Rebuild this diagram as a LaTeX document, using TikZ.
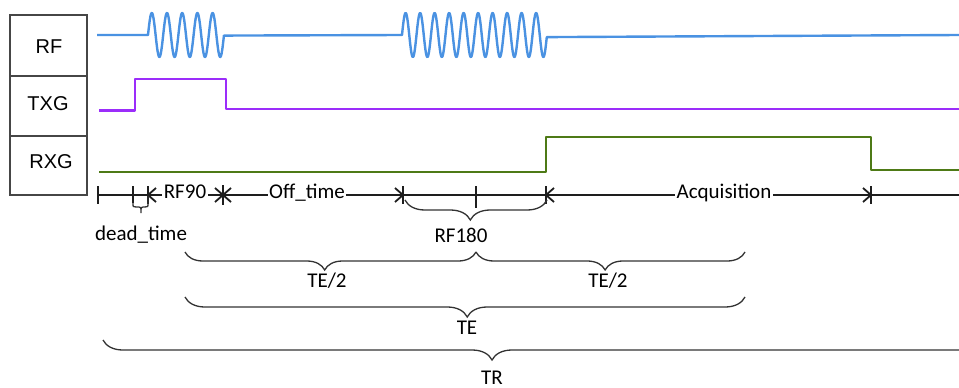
\documentclass[tikz,border=0pt]{standalone}
\usepackage{fontspec}
\newfontfamily\calfont{Carlito}
\newfontfamily\arialfont{Liberation Sans}
\usetikzlibrary{decorations.pathreplacing}
\definecolor{rfblue}{RGB}{74,146,226}
\definecolor{txpurple}{RGB}{155,45,250}
\definecolor{rxgreen}{RGB}{78,122,22}
\definecolor{boxgray}{RGB}{70,70,70}
\definecolor{tlblack}{RGB}{30,30,30}
\tikzset{
  sig/.style={line width=2.4pt, line join=round},
  tl/.style={line width=1.8pt, draw=tlblack},
  boxline/.style={line width=1.2pt, draw=boxgray},
  boxlabel/.style={font=\arialfont\fontsize{20}{24}\selectfont, inner sep=0pt},
  tltext/.style={font=\calfont\fontsize{21}{25}\selectfont, fill=white, inner sep=1.5pt, anchor=base},
  brlabel/.style={font=\calfont\fontsize{21}{25}\selectfont, inner sep=0pt, anchor=base},
  curly/.style={line width=1.3pt, draw=black!80, decorate},
  tickmark/.pic={\draw[tl] (0,-9) -- (0,9);},
  barleft/.pic={\draw[tl] (0,-9) -- (0,9); \draw[tl] (8,-7) -- (0,0) -- (8,7);},
  barright/.pic={\draw[tl] (0,-9) -- (0,9); \draw[tl] (-8,-7) -- (0,0) -- (-8,7);},
  barboth/.pic={\draw[tl] (0,-10) -- (0,10); \draw[tl] (-8,-7) -- (8,7) (-8,7) -- (8,-7);},
}
\begin{document}
\begin{tikzpicture}[x=1pt,y=-1pt]
\useasboundingbox (0,0) rectangle (959,388);
\begin{scope}
\clip (0,0) rectangle (959,388);

% label column
\draw[boxline] (10,15) rectangle (87,195);
\draw[boxline] (10,76) -- (87,76);
\draw[boxline] (10,136) -- (87,136);
\node[boxlabel] (lrf) at (49,47) {RF};
\node[boxlabel] (ltx) at (48,104) {TXG};
\node[boxlabel] (lrx) at (51,162) {RXG};

% RF signal
\draw[sig, rfblue] (97,35) -- (148,35)
  -- plot[domain=0:1, samples=220] ({148+76*\x},{35-22*sin(5*360*\x)})
  -- (402,35)
  -- plot[domain=0:1, samples=400] ({402+145*\x},{35-22*sin(10*360*\x)})
  -- (959,35);

% TXG
\draw[sig, txpurple] (99,110.5) -- (135,110.5) -- (135,79) -- (226,79) -- (226,109) -- (959,109);

% RXG
\draw[sig, rxgreen] (99,172) -- (546,172) -- (546,137) -- (871,137) -- (871,170) -- (959,170);

% timeline
\coordinate (t0) at (98,195);
\coordinate (t1) at (133,195);
\coordinate (t2) at (148,195);
\coordinate (t3) at (223,195);
\coordinate (t4) at (403,195);
\coordinate (t5) at (476,195);
\coordinate (t6) at (546,195);
\coordinate (t7) at (871,195);
\coordinate (tend) at (959,195);
\draw[tl] (t0) -- (tend);
\pic at (t0) {tickmark};
\pic at (t2) {barleft};
\pic at (t3) {barboth};
\pic at (t4) {barright};
\draw[tl] (476,186) -- (476,208);
\pic at (t6) {barleft};
\pic at (t7) {barright};
\node[tltext] (rf90) at (185,198) {RF90};
\node[tltext] (offt) at (307,198) {Off\_time};
\node[tltext] (acq) at (724,198) {Acquisition};

% dead_time small brace
\draw[tl] (133,186) -- (133,203);
\draw[line width=1.3pt, draw=black!80] (133,203) .. controls (133,207) .. (136,207) -- (139,207)
  .. controls (141,207) .. (141,213) .. controls (141,207) .. (143,207) -- (145,207)
  .. controls (148,207) .. (148,203) -- (148,196);
\node[brlabel] (dt) at (141,240) {dead\_time};

% RF180 brace
\coordinate (rfa) at (405,200);
\coordinate (rfb) at (547,200);
\draw[curly, decoration={brace, mirror, amplitude=20pt, aspect=0.46}] (rfa) -- (rfb);
\node[brlabel] (rf180) at (461,242) {RF180};

% TE/2 braces
\coordinate (h0) at (185,252);
\coordinate (h1) at (476,252);
\coordinate (h2) at (745,252);
\draw[curly, decoration={brace, mirror, amplitude=18pt, aspect=0.48}] (h0) -- (h1);
\draw[curly, decoration={brace, mirror, amplitude=18pt, aspect=0.48}] (h1) -- (h2);
\node[brlabel] (te2a) at (327,287) {TE/2};
\node[brlabel] (te2b) at (608,287) {TE/2};

% TE brace
\coordinate (e0) at (185,297);
\coordinate (e1) at (745,297);
\draw[curly, decoration={brace, mirror, amplitude=20pt, aspect=0.504}] (e0) -- (e1);
\node[brlabel] (te) at (467,334) {TE};

% TR brace
\coordinate (r0) at (103,340);
\coordinate (r1) at (1000,340);
\draw[curly, decoration={brace, mirror, amplitude=20pt, aspect=0.4337}] (r0) -- (r1);
\node[brlabel] (tr) at (492,384) {TR};
\end{scope}
\end{tikzpicture}
\end{document}
